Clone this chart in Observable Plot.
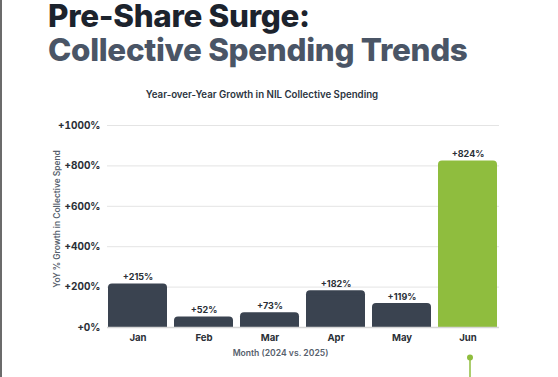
<!DOCTYPE html>
<html>
<head>
<meta charset="utf-8">
<script src="https://cdn.jsdelivr.net/npm/d3@7"></script>
<script src="https://cdn.jsdelivr.net/npm/@observablehq/plot@0.6"></script>
<style>
  html, body { margin: 0; padding: 0; background: #fff; width: 558px; height: 377px; overflow: hidden; font-family: Inter, "Noto Sans", sans-serif; }
  .edge { position: absolute; left: 0; top: 0; width: 2px; height: 377px; background: #6b6b6b; z-index: 5; }
  .tl { position: absolute; left: 48px; margin: 0; font-size: 31.4px; font-weight: 800; line-height: 1; letter-spacing: -0.3px; white-space: nowrap; }
  .t1 { color: #1c232d; top: 1px; }
  .t2 { color: #4a5566; top: 35px; }
  .sub { position: absolute; left: 0; top: 89px; width: 524px; text-align: center; font-size: 9.7px; font-weight: 600; color: #2b3440; }
  #chart { position: absolute; left: 0; top: 110px; }
</style>
</head>
<body>
<div class="edge"></div>
<div class="tl t1">Pre-Share Surge:</div>
<div class="tl t2">Collective Spending Trends</div>
<div class="sub">Year-over-Year Growth in NIL Collective Spending</div>
<div id="chart"></div>
<script>
const months = ["Jan", "Feb", "Mar", "Apr", "May", "Jun"];
const growth = [215, 52, 73, 182, 119, 824];
const highlight = ["Jun"];
const yTicks = [0, 200, 400, 600, 800, 1000];
const xLabel = "Month (2024 vs. 2025)";
const yLabel = "YoY % Growth in Collective Spend";

const data = months.map((m, i) => ({month: m, value: growth[i]}));
const fmt = v => "+" + v + "%";
const barFill = d => highlight.includes(d.month) ? "#8fbd3e" : "#3a4350";

const chart = Plot.plot({
  width: 558,
  height: 267,
  marginLeft: 107,
  marginRight: 59,
  marginTop: 15,
  marginBottom: 50,
  style: {fontFamily: "Inter, 'Noto Sans', sans-serif", background: "transparent"},
  x: {domain: months, paddingInner: 0.1, paddingOuter: 0, label: null},
  y: {domain: [0, 1000], label: null},
  marks: [
    Plot.gridY(yTicks, {stroke: "#e4e4e4", strokeOpacity: 1, strokeWidth: 1}),
    Plot.axisY(yTicks, {tickSize: 0, tickPadding: 7, tickFormat: fmt, fontSize: 10, fontWeight: 700, fill: "#2a2f36", label: null}),
    Plot.axisX({tickSize: 0, tickPadding: 7, fontSize: 9.6, fontWeight: 700, fill: "#2a2f36", label: null}),
    Plot.rectY(data, {x: "month", y: "value", fill: barFill, rx: 4, ry: 4}),
    Plot.rectY(data, {x: "month", y: "value", fill: barFill, insetTop: 5}),
    Plot.ruleY([0], {stroke: "#d6d6d6", strokeWidth: 1.5}),
    Plot.text(data, {x: "month", y: "value", text: d => fmt(d.value), dy: -6.5, fontSize: 9, fontWeight: 700, fill: "#2a2f36"}),
    Plot.text([xLabel], {frameAnchor: "bottom", text: d => d, dy: 28, dx: -23, fontSize: 8.6, fontWeight: 600, fill: "#56606c"}),
    Plot.text([yLabel], {frameAnchor: "left", textAnchor: "middle", text: d => d, rotate: -90, dx: -50, dy: -7.5, fontSize: 8.4, fontWeight: 600, fill: "#56606c"}),
    Plot.ruleX(highlight, {x: d => d, dx: 2, dy: 232, stroke: "#8fbd3e", strokeWidth: 1.5}),
    Plot.dot(highlight, {x: d => d, frameAnchor: "bottom", dx: 2, dy: 30, r: 3, fill: "#8fbd3e", stroke: "none"})
  ]
});
document.getElementById("chart").appendChild(chart);
</script>
</body>
</html>
